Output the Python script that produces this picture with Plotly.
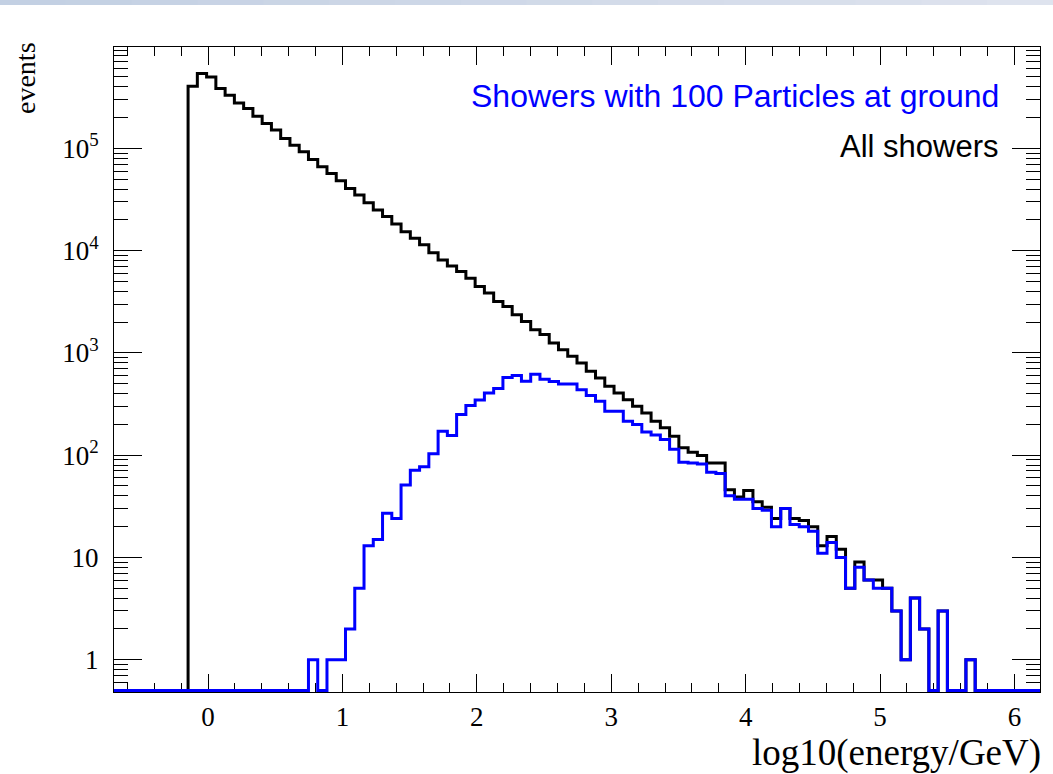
import numpy as np
import plotly.graph_objects as go

# Histogram binning (100 equal bins over the axis range)
X_MIN, X_MAX, N_BINS = -0.70, 6.19, 100
Y_MIN = 0.5  # floor of the log axis; empty bins are drawn here

# Bin contents, bin 0 .. 99
all_showers = [
    0, 0, 0, 0, 0, 0, 0, 0, 405000, 538000,
    499000, 384000, 330000, 278000, 245000, 206000, 175000, 151000, 125000, 107500,
    92500, 78000, 66000, 56900, 48200, 40600, 34900, 29400, 24900, 21500,
    18200, 15300, 13200, 11400, 9550, 8110, 7090, 6240, 5380, 4450,
    3840, 3180, 2840, 2360, 2030, 1680, 1510, 1250, 1075, 925,
    797, 660, 569, 471, 406, 349, 301, 259, 215, 185,
    153, 118, 107, 99, 84, 84, 46, 39, 45, 35,
    31, 24, 30, 24, 23, 20, 13, 16, 12, 5,
    9, 6, 6, 5, 3, 1, 4, 2, 0, 3,
    0, 0, 1, 0, 0, 0, 0, 0, 0, 0,
]

showers_100 = [
    0, 0, 0, 0, 0, 0, 0, 0, 0, 0,
    0, 0, 0, 0, 0, 0, 0, 0, 0, 0,
    0, 1, 0, 1, 1, 2, 5, 13, 15, 27,
    24, 51, 71, 77, 103, 171, 156, 250, 306, 346,
    406, 448, 573, 602, 527, 618, 552, 524, 495, 495,
    437, 382, 336, 269, 269, 215, 199, 168, 157, 142,
    114, 85, 84, 82, 68, 66, 40, 37, 37, 30,
    29, 20, 30, 21, 20, 18, 11, 14, 10, 5,
    8, 6, 5, 5, 3, 1, 4, 2, 0, 3,
    0, 0, 1, 0, 0, 0, 0, 0, 0, 0,
]

y_tick_vals = [1, 10, 100, 1000, 10000, 100000]
y_tick_text = ["1", "10", "10<sup>2</sup>", "10<sup>3</sup>", "10<sup>4</sup>", "10<sup>5</sup>"]

edges = np.linspace(X_MIN, X_MAX, N_BINS + 1)


def outline(counts):
    c = np.asarray(counts, dtype=float)
    c = np.where(c > 0, c, Y_MIN)
    return edges, np.append(c, c[-1])


fig = go.Figure()
for counts, colour in ((all_showers, "#000000"), (showers_100, "#0000ff")):
    xs, ys = outline(counts)
    fig.add_trace(go.Scatter(
        x=xs, y=ys, mode="lines",
        line=dict(color=colour, width=3, shape="hv"),
        showlegend=False, hoverinfo="skip",
    ))

# ROOT-style log minor ticks: 2..9 in every decade
minor_y = [m * 10.0 ** d for d in range(-1, 6) for m in range(2, 10)]

serif = "Liberation Serif"
sans = "Liberation Sans"

fig.update_xaxes(
    range=[X_MIN, X_MAX], showgrid=False, zeroline=False,
    showline=True, linecolor="black", linewidth=1, mirror="allticks",
    ticks="inside", ticklen=18, tickwidth=1, tickcolor="black",
    tick0=0, dtick=1, ticklabelstandoff=1,
    tickfont=dict(family=serif, size=27, color="black"),
    minor=dict(ticks="inside", ticklen=9, tickwidth=1, tickcolor="black",
               tick0=0, dtick=0.2, showgrid=False),
    layer="below traces",
)
fig.update_yaxes(
    type="log", range=[np.log10(Y_MIN) - 0.015, 5.991],
    showgrid=False, zeroline=False,
    showline=True, linecolor="black", linewidth=1, mirror="allticks",
    ticks="inside", ticklen=28, tickwidth=1, tickcolor="black",
    tickmode="array", tickvals=y_tick_vals, ticktext=y_tick_text,
    ticklabelstandoff=9,
    tickfont=dict(family=serif, size=27, color="black"),
    minor=dict(ticks="inside", ticklen=14, tickwidth=1, tickcolor="black",
               tickmode="array", tickvals=minor_y, showgrid=False),
    layer="below traces",
)

W, H = 1053, 774
L, R, T, B = 114, 13, 47, 82
pw, ph = W - L - R, H - T - B


def px(x):
    return (x - L) / pw


def py(y):
    return (H - B - y) / ph


def note(text, x, y, size, family, colour, xanchor="right", angle=0):
    return dict(text=text, x=x, y=y, xref="paper", yref="paper",
                xanchor=xanchor, yanchor="middle", showarrow=False,
                textangle=angle,
                font=dict(family=family, size=size, color=colour))


annotations = [
    note("Showers with 100 Particles at ground", px(1001), py(96), 32, sans, "#0000ff"),
    note("All showers", px(1001), py(146), 31, sans, "black"),
    note("log10(energy/GeV)", px(1043), py(753), 37, serif, "black"),
    note("events", px(25), py(78), 28, serif, "black", xanchor="center", angle=-90),
]

# thin slate-blue header band across the top of the page
band = []
n_seg = 16
c0, c1 = np.array([195, 208, 227]), np.array([222, 227, 238])
for i in range(n_seg):
    col = c0 + (c1 - c0) * i / (n_seg - 1)
    band.append(dict(
        type="rect", xref="paper", yref="paper", layer="above",
        x0=px(W * i / n_seg), x1=px(W * (i + 1) / n_seg + 1),
        y0=py(5), y1=py(0),
        fillcolor="rgb(%d,%d,%d)" % tuple(col.astype(int)), line=dict(width=0),
    ))

fig.update_layout(
    width=W, height=H,
    margin=dict(l=L, r=R, t=T, b=B, pad=0),
    paper_bgcolor="white", plot_bgcolor="white",
    annotations=annotations, shapes=band,
    showlegend=False,
)

fig.write_html("out.html")
